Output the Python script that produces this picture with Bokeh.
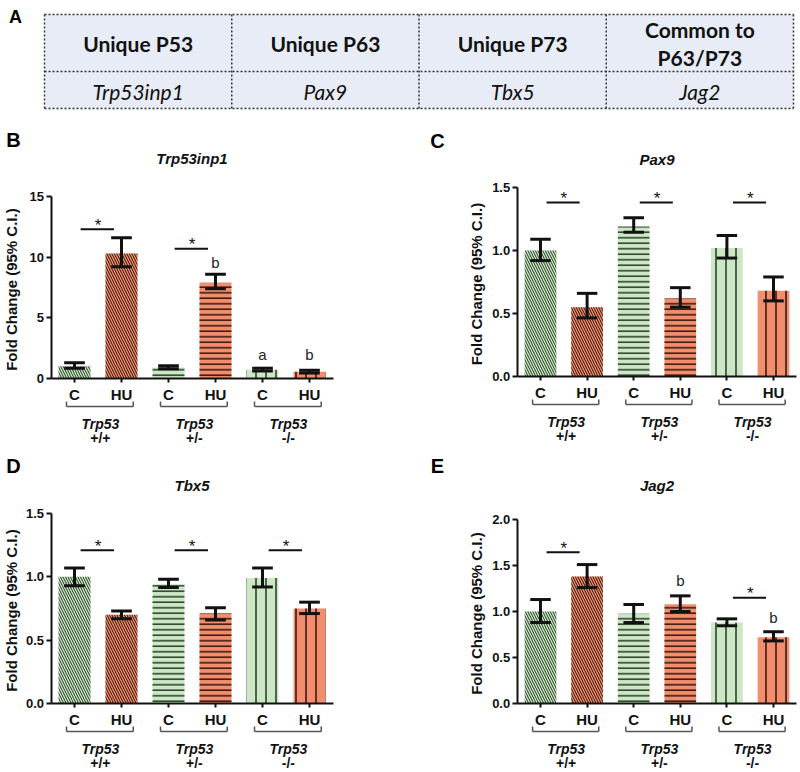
import math
from bokeh.plotting import figure
from bokeh.models import Range1d, LinearAxis, FixedTicker, PrintfTickFormatter
from bokeh.layouts import column, row
from bokeh.embed import file_html
from bokeh.resources import INLINE
from bokeh.core.properties import value

# ---------------- data ----------------
table_headers = ["Unique P53", "Unique P63", "Unique P73", "Common to\nP63/P73"]
table_genes = ["Trp53inp1", "Pax9", "Tbx5", "Jag2"]

genotypes = ["+/+", "+/-", "-/-"]
treatments = ["C", "HU"]

# order of bars: +/+ C, +/+ HU, +/- C, +/- HU, -/- C, -/- HU
trp53inp1_mean = [1.0, 10.3, 0.9, 7.9, 0.72, 0.55]
trp53inp1_low = [0.85, 9.2, 0.8, 7.4, 0.62, 0.45]
trp53inp1_high = [1.3, 11.6, 1.05, 8.6, 0.85, 0.68]
trp53inp1_sig = [(0, 12.3), (1, 10.7)]
trp53inp1_letters = [(3, "b", 9.6), (4, "a", 2.0), (5, "b", 2.0)]
trp53inp1_ticks = [0, 5, 10, 15]

pax9_mean = [1.0, 0.55, 1.19, 0.62, 1.02, 0.68]
pax9_low = [0.92, 0.465, 1.145, 0.55, 0.94, 0.60]
pax9_high = [1.09, 0.66, 1.26, 0.705, 1.12, 0.79]
pax9_sig = [(0, 1.38), (1, 1.38), (2, 1.38)]
pax9_letters = []
pax9_ticks = [0.0, 0.5, 1.0, 1.5]

tbx5_mean = [1.0, 0.70, 0.94, 0.71, 0.99, 0.75]
tbx5_low = [0.93, 0.67, 0.915, 0.66, 0.92, 0.71]
tbx5_high = [1.07, 0.73, 0.98, 0.755, 1.07, 0.80]
tbx5_sig = [(0, 1.21), (1, 1.21), (2, 1.21)]
tbx5_letters = []
tbx5_ticks = [0.0, 0.5, 1.0, 1.5]

jag2_mean = [1.0, 1.38, 0.975, 1.08, 0.88, 0.72]
jag2_low = [0.88, 1.26, 0.88, 1.0, 0.845, 0.68]
jag2_high = [1.13, 1.51, 1.076, 1.17, 0.92, 0.78]
jag2_sig = [(0, 1.645), (2, 1.15)]
jag2_letters = [(3, "b", 1.34), (5, "b", 0.94)]
jag2_ticks = [0.0, 0.5, 1.0, 1.5, 2.0]

# ---------------- style ----------------
FONT = value("Liberation Sans")
TFONT = value("Lato")
C_FILL = "#cde7c6"
HU_FILL = "#f28d6e"
C_HATCH = "#1f3a1f"
HU_HATCH = "#2e1208"
HATCH = {"+/+": ("\\", 5, 1.0), "+/-": ("-", 5.5, 1.5), "-/-": ("|", 10, 1.5)}
BAR_W = 0.68
CAP = 0.22


def table_fig():
    W, H = 800, 124
    left_px, unit = 44, 187.25
    p = figure(width=W, height=H, x_range=Range1d(-left_px / unit, (W - left_px) / unit),
               y_range=Range1d(H, 0), x_axis_type=None, y_axis_type=None,
               toolbar_location=None, output_backend="svg", title=None,
               min_border=0, min_border_left=0, min_border_right=0,
               min_border_top=0, min_border_bottom=0, outline_line_color=None)
    n = len(table_headers)
    rows = [14, 71, 108]
    p.quad(left=list(range(n)), right=[i + 1 for i in range(n)], top=[rows[0]] * n,
           bottom=[rows[2]] * n, fill_color="#e8ecf6", line_color=None)
    xs, ys = [], []
    for r in rows:
        xs.append([0, n]); ys.append([r, r])
    for i in range(n + 1):
        xs.append([i, i]); ys.append([rows[0], rows[2]])
    p.multi_line(xs, ys, line_color="#333333", line_width=1.5, line_dash="2 2")
    hx, hy, ht = [], [], []
    for i, h in enumerate(table_headers):
        lines = h.split("\n")
        mid = (rows[0] + rows[1]) / 2
        for k, ln in enumerate(lines):
            hx.append(i + 0.5)
            hy.append(mid + (k - (len(lines) - 1) / 2) * 28)
            ht.append(ln)
    p.text(hx, hy, ht, text_font=TFONT, text_font_style="bold", text_font_size="21px",
           text_align="center", text_baseline="middle", text_color="#111111")
    p.text([i + 0.5 for i in range(n)], [(rows[1] + rows[2]) / 2 + 1] * n, table_genes,
           text_font=TFONT, text_font_style="italic", text_font_size="21px",
           text_align="center", text_baseline="middle", text_color="#111111")
    p.text([(15 - left_px) / unit], [16], ["A"], text_font=FONT, text_font_style="bold",
           text_font_size="18px", text_align="center", text_baseline="middle",
           text_color="#000000")
    return p


def panel(letter, gene, mean, low, high, sig, letters, ticks, fmt,
          W, H, zero_px, top_px, x0_px, unit_px, ylabel_px, letter_xy, title_y):
    ymax = ticks[-1]
    ppu = (zero_px - top_px) / ymax
    p = figure(width=W, height=H,
               x_range=Range1d(-x0_px / unit_px, (W - x0_px) / unit_px),
               y_range=Range1d((zero_px - H) / ppu, zero_px / ppu),
               x_axis_type=None, y_axis_type=None, toolbar_location=None,
               output_backend="svg", title=None, min_border=0, min_border_left=0,
               min_border_right=0, min_border_top=0, min_border_bottom=0,
               outline_line_color=None)
    p.extra_x_ranges = {"px": Range1d(0, W)}
    p.extra_y_ranges = {"px": Range1d(H, 0)}

    # bars
    for g, gt in enumerate(genotypes):
        pat, scale, weight = HATCH[gt]
        for t, tr in enumerate(treatments):
            i = 2 * g + t
            p.vbar(x=[i], top=[mean[i]], bottom=0, width=BAR_W,
                   fill_color=C_FILL if t == 0 else HU_FILL, line_color=None,
                   hatch_pattern=pat, hatch_scale=scale, hatch_weight=weight,
                   hatch_color=C_HATCH if t == 0 else HU_HATCH)
    xs = list(range(len(mean)))
    # error bars
    p.segment(x0=xs, y0=low, x1=xs, y1=high, line_color="#111111", line_width=3)
    p.segment(x0=[x - CAP for x in xs], y0=low, x1=[x + CAP for x in xs], y1=low,
              line_color="#111111", line_width=3)
    p.segment(x0=[x - CAP for x in xs], y0=high, x1=[x + CAP for x in xs], y1=high,
              line_color="#111111", line_width=3)

    # significance
    if sig:
        sx0 = [2 * g + 0.13 for g, _ in sig]
        sx1 = [2 * g + 1 - 0.16 for g, _ in sig]
        sy = [y for _, y in sig]
        p.segment(x0=sx0, y0=sy, x1=sx1, y1=sy, line_color="#111111", line_width=2)
        p.text([2 * g + 0.5 for g, _ in sig], sy, ["*"] * len(sig), text_font=FONT,
               text_font_size="17px", text_align="center", text_baseline="middle",
               y_offset=-4, text_color="#111111")
    if letters:
        p.text([i for i, _, _ in letters], [y for _, _, y in letters],
               [s for _, s, _ in letters], text_font=FONT, text_font_size="15px",
               text_align="center", text_baseline="middle", text_color="#222222")

    # axes
    yaxis = LinearAxis(fixed_location=-0.5, bounds=(0, ymax),
                       ticker=FixedTicker(ticks=ticks, minor_ticks=[]),
                       formatter=PrintfTickFormatter(format=fmt))
    xaxis = LinearAxis(fixed_location=0, bounds=(-0.5, 5.5),
                       ticker=FixedTicker(ticks=xs, minor_ticks=[]),
                       major_label_overrides={i: treatments[i % 2] for i in xs})
    for ax in (yaxis, xaxis):
        ax.axis_line_color = "#111111"
        ax.axis_line_width = 2
        ax.major_tick_line_color = "#111111"
        ax.major_tick_line_width = 2
        ax.major_tick_in = 0
        ax.minor_tick_line_color = None
        ax.major_label_text_font = "Liberation Sans"
        ax.major_label_text_font_style = "bold"
        ax.major_label_text_color = "#111111"
    yaxis.major_tick_out = 5
    yaxis.major_label_standoff = 2
    yaxis.major_label_text_font_size = "13px"
    xaxis.major_tick_out = 4
    xaxis.major_label_standoff = 3
    xaxis.major_label_text_font_size = "15px"
    p.add_layout(yaxis, "left")
    p.add_layout(xaxis, "below")

    # y label
    p.text([ylabel_px], [ymax / 2], ["Fold  Change (95% C.I.)"], angle=math.pi / 2,
           x_range_name="px", text_font=FONT, text_font_style="bold",
           text_font_size="15px", text_align="center", text_baseline="middle",
           text_color="#111111")
    # title
    p.text([2.5], [title_y], [gene], y_range_name="px", text_font=FONT,
           text_font_style="bold italic", text_font_size="15px", text_align="center",
           text_baseline="middle", text_color="#111111")
    # panel letter
    p.text([letter_xy[0]], [letter_xy[1]], [letter], x_range_name="px", y_range_name="px",
           text_font=FONT, text_font_style="bold", text_font_size="20px",
           text_align="center", text_baseline="middle", text_color="#000000")

    # brackets and genotype labels
    zero_fig = zero_px
    bl = [2 * g - 0.17 for g in range(len(genotypes))]
    br = [2 * g + 1 + 0.25 for g in range(len(genotypes))]
    n = len(genotypes)
    p.segment(x0=bl, y0=[zero_fig + 28] * n, x1=br, y1=[zero_fig + 28] * n,
              y_range_name="px", line_color="#555555", line_width=1.5)
    p.segment(x0=bl + br, y0=[zero_fig + 23] * (2 * n), x1=bl + br,
              y1=[zero_fig + 28] * (2 * n), y_range_name="px", line_color="#555555",
              line_width=1.5)
    gx = [2 * g + 0.55 for g in range(n)]
    p.text(gx, [zero_fig + 45] * n, ["Trp53"] * n, y_range_name="px", text_font=FONT,
           text_font_style="bold italic", text_font_size="14px", text_align="center",
           text_baseline="middle", text_color="#111111")
    p.text(gx, [zero_fig + 59] * n, genotypes, y_range_name="px", text_font=FONT,
           text_font_style="bold", text_font_size="14px", text_align="center",
           text_baseline="middle", text_color="#111111")
    return p


pA = table_fig()
pB = panel("B", "Trp53inp1", trp53inp1_mean, trp53inp1_low, trp53inp1_high,
           trp53inp1_sig, trp53inp1_letters, trp53inp1_ticks, "%d",
           W=400, H=326, zero_px=254, top_px=72, x0_px=74, unit_px=47,
           ylabel_px=11, letter_xy=(13, 15), title_y=34)
pC = panel("C", "Pax9", pax9_mean, pax9_low, pax9_high, pax9_sig, pax9_letters,
           pax9_ticks, "%.1f",
           W=400, H=326, zero_px=252, top_px=63, x0_px=140, unit_px=46.6,
           ylabel_px=76, letter_xy=(37, 16), title_y=35)
pD = panel("D", "Tbx5", tbx5_mean, tbx5_low, tbx5_high, tbx5_sig, tbx5_letters,
           tbx5_ticks, "%.1f",
           W=400, H=322, zero_px=253, top_px=63, x0_px=74, unit_px=47,
           ylabel_px=11, letter_xy=(13, 15), title_y=35)
pE = panel("E", "Jag2", jag2_mean, jag2_low, jag2_high, jag2_sig, jag2_letters,
           jag2_ticks, "%.1f",
           W=400, H=322, zero_px=253, top_px=69, x0_px=140, unit_px=46.6,
           ylabel_px=76, letter_xy=(37, 15), title_y=35)

layout = column(pA, row(pB, pC), row(pD, pE))
open("out.html", "w").write(file_html(layout, INLINE))
